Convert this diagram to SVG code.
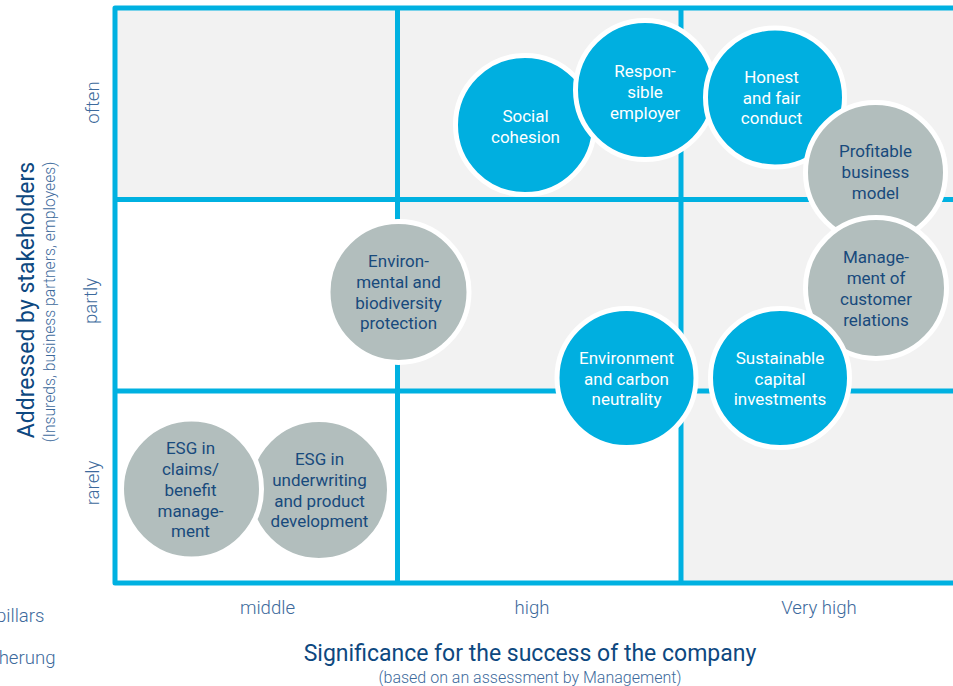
<svg xmlns="http://www.w3.org/2000/svg" width="953" height="686" viewBox="0 0 953 686">
  <style>
    .grid { fill: none; stroke: #00b1e1; stroke-width: 5; stroke-linejoin: round; stroke-linecap: butt; }
    .cell { fill: #f2f2f2; }
    .blue { fill: #00afe0; stroke: #ffffff; stroke-width: 5; }
    .grey { fill: #b2bebd; stroke: #ffffff; stroke-width: 5; }
    .lbl { font-family: Roboto, "Liberation Sans", sans-serif; font-size: 17px; text-anchor: middle; }
    .lblw { fill: #ffffff; }
    .lbld { fill: #184a7c; }
    .axis { font-family: Roboto, "Liberation Sans", sans-serif; font-size: 18.6px; font-weight: 300; fill: #3d6a9c; text-anchor: middle; }
    .title { font-family: Roboto, "Liberation Sans", sans-serif; font-size: 23px; fill: #0d4880; text-anchor: middle; }
    .sub { font-family: Roboto, "Liberation Sans", sans-serif; font-size: 16px; font-weight: 300; fill: #3d6a9c; text-anchor: middle; }
  </style>

  <rect width="953" height="686" fill="#ffffff"/>

  <!-- matrix background cells -->
  <g id="cells">
    <rect class="cell" x="115" y="8" width="850" height="191.5"/>
    <rect class="cell" x="397.5" y="199.5" width="567" height="191.5"/>
    <rect class="cell" x="681" y="391" width="284" height="192"/>
  </g>

  <!-- matrix grid lines -->
  <g id="grid">
    <path class="grid" d="M965 8 H115 V583 H965"/>
    <line class="grid" x1="397.5" y1="8" x2="397.5" y2="583"/>
    <line class="grid" x1="681" y1="8" x2="681" y2="583"/>
    <line class="grid" x1="115" y1="199.5" x2="965" y2="199.5"/>
    <line class="grid" x1="115" y1="391" x2="965" y2="391"/>
  </g>

  <!-- axis: stakeholders -->
  <g id="y-axis">
    <text class="title" transform="translate(33.5 300) rotate(-90)">Addressed by stakeholders</text>
    <text class="sub" transform="translate(55 302) rotate(-90)" style="font-size:15.7px">(Insureds, business partners, employees)</text>
    <text class="axis" transform="translate(99 102.5) rotate(-90)">often</text>
    <text class="axis" transform="translate(96.5 301) rotate(-90)">partly</text>
    <text class="axis" transform="translate(99 483) rotate(-90)">rarely</text>
  </g>

  <!-- axis: significance -->
  <g id="x-axis">
    <text class="axis" x="267.5" y="614">middle</text>
    <text class="axis" x="532" y="614">high</text>
    <text class="axis" x="819" y="614">Very high</text>
    <text class="title" x="530" y="661">Significance for the success of the company</text>
    <text class="sub" x="530" y="683">(based on an assessment by Management)</text>
  </g>

  <!-- legend entries clipped at the left edge -->
  <g id="legend">
    <text class="axis" x="44.5" y="621.5" style="text-anchor:end">pillars</text>
    <text class="axis" x="55.5" y="663.5" style="text-anchor:end">herung</text>
  </g>

  <!-- topics -->
  <g id="env-biodiversity">
    <circle class="grey" cx="398.5" cy="292" r="70.5"/>
    <text class="lbl lbld"><tspan x="398.5" y="266.7">Environ-</tspan><tspan x="398.5" y="287.5">mental and</tspan><tspan x="398.5" y="308.5">biodiversity</tspan><tspan x="398.5" y="329.3">protection</tspan></text>
  </g>

  <g id="esg-underwriting">
    <circle class="grey" cx="319" cy="490" r="70.5"/>
    <text class="lbl lbld"><tspan x="319.5" y="465">ESG in</tspan><tspan x="319.5" y="486">underwriting</tspan><tspan x="319.5" y="506.7">and product</tspan><tspan x="319.5" y="527.3">development</tspan></text>
  </g>

  <g id="esg-claims">
    <circle class="grey" cx="191.5" cy="489" r="70"/>
    <text class="lbl lbld"><tspan x="190.5" y="454">ESG in</tspan><tspan x="190.5" y="475">claims/</tspan><tspan x="190.5" y="495.7">benefit</tspan><tspan x="190.5" y="516.7">manage-</tspan><tspan x="190.5" y="536.7">ment</tspan></text>
  </g>

  <g id="social-cohesion">
    <circle class="blue" cx="525" cy="125" r="69.5"/>
    <text class="lbl lblw"><tspan x="525.5" y="122">Social</tspan><tspan x="525.5" y="143">cohesion</tspan></text>
  </g>

  <g id="responsible-employer">
    <circle class="blue" cx="645" cy="90" r="69.5"/>
    <text class="lbl lblw"><tspan x="645" y="77.3">Respon-</tspan><tspan x="645" y="98.3">sible</tspan><tspan x="645" y="118.8">employer</tspan></text>
  </g>

  <g id="honest-conduct">
    <circle class="blue" cx="775" cy="97.5" r="69.5"/>
    <text class="lbl lblw"><tspan x="771.5" y="83">Honest</tspan><tspan x="771.5" y="103.5">and fair</tspan><tspan x="771.5" y="124">conduct</tspan></text>
  </g>

  <g id="profitable-model">
    <circle class="grey" cx="875.5" cy="172.5" r="70"/>
    <text class="lbl lbld"><tspan x="875.5" y="157">Profitable</tspan><tspan x="875.5" y="178">business</tspan><tspan x="875.5" y="198.5">model</tspan></text>
  </g>

  <g id="customer-relations">
    <circle class="grey" cx="876" cy="288" r="70.5"/>
    <text class="lbl lbld"><tspan x="876" y="262.7">Manage-</tspan><tspan x="876" y="284">ment of</tspan><tspan x="876" y="305">customer</tspan><tspan x="876" y="325.5">relations</tspan></text>
  </g>

  <g id="capital-investments">
    <circle class="blue" cx="780" cy="378" r="69.5"/>
    <text class="lbl lblw"><tspan x="780" y="364">Sustainable</tspan><tspan x="780" y="384.5">capital</tspan><tspan x="780" y="405">investments</tspan></text>
  </g>

  <g id="carbon-neutrality">
    <circle class="blue" cx="626.5" cy="378" r="69.5"/>
    <text class="lbl lblw"><tspan x="626.5" y="364">Environment</tspan><tspan x="626.5" y="384.5">and carbon</tspan><tspan x="626.5" y="405">neutrality</tspan></text>
  </g>

  <!-- no connectors in this chart -->
  <g id="connectors"/>
</svg>
